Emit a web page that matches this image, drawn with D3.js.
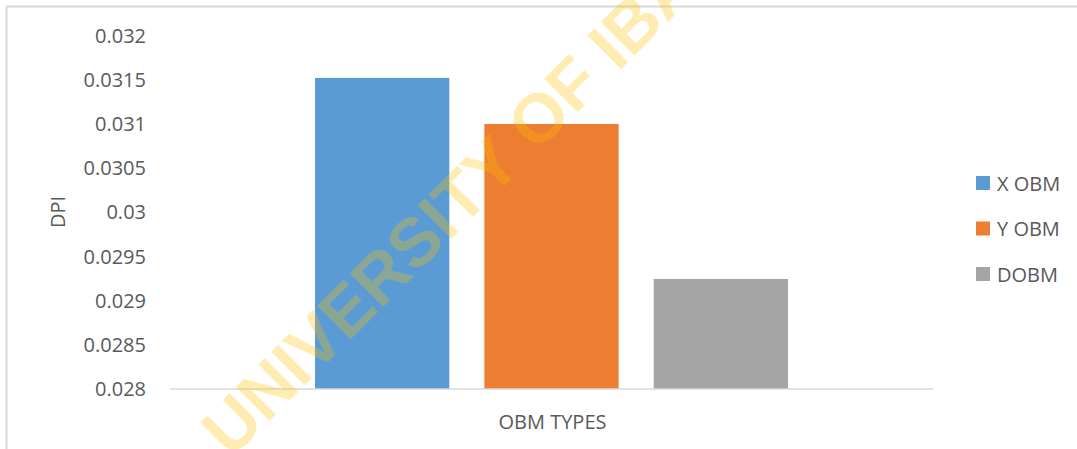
<!DOCTYPE html>
<html>
<head>
<meta charset="utf-8">
<script src="https://cdn.jsdelivr.net/npm/d3@7"></script>
<style>
  html, body { margin: 0; padding: 0; background: #fff; }
  svg { display: block; }
  text { font-family: "Open Sans", "Liberation Sans", sans-serif; }
</style>
</head>
<body>
<svg id="chart" width="1077" height="449"></svg>
<script>
// ---- data ----
const categories = ["OBM TYPES"];
const seriesNames = ["X OBM", "Y OBM", "DOBM"];
const seriesValues = [0.031525, 0.031003, 0.029247];
const seriesColors = ["#5B9BD5", "#ED7D31", "#A5A5A5"];
const yTicks = [0.028, 0.0285, 0.029, 0.0295, 0.03, 0.0305, 0.031, 0.0315, 0.032];
const yTitle = "DPI";
const xTitle = "OBM TYPES";
const watermark = "UNIVERSITY OF IBADAN";

const W = 1077, H = 449;
const svg = d3.select("#chart");
const textColor = "#595959";

// chart frame (partial border like the source crop)
svg.append("rect").attr("x", 6.5).attr("y", 6.5).attr("width", W + 10).attr("height", H + 10)
  .attr("fill", "#fff").attr("stroke", "#d9d9d9").attr("stroke-width", 2);

const plot = { left: 170, right: 933, top: 36, bottom: 389 };

const y = d3.scaleLinear().domain([0.028, 0.032]).range([plot.bottom, plot.top]);
const x0 = d3.scaleBand().domain(categories).range([plot.left, plot.right])
  .paddingInner(0).paddingOuter(0.3066);
const x1 = d3.scaleBand().domain(seriesNames).range([0, x0.bandwidth()])
  .paddingInner(0.207).paddingOuter(0);

const fmt = v => String(+v.toFixed(4));

// y axis labels
const yAxis = d3.axisLeft(y).tickValues(yTicks).tickFormat(fmt).tickSize(0).tickPadding(24);
const gy = svg.append("g").attr("transform", `translate(${plot.left},0)`).call(yAxis);
gy.select(".domain").remove();
gy.selectAll("text").attr("fill", textColor).style("font-size", "20px")
  .style("font-family", "'Open Sans', sans-serif");

// bars
const data = seriesNames.map((s, i) => ({ cat: categories[0], name: s, value: seriesValues[i], color: seriesColors[i] }));
svg.append("g").selectAll("rect").data(data).join("rect")
  .attr("x", d => x0(d.cat) + x1(d.name))
  .attr("width", x1.bandwidth())
  .attr("y", d => y(d.value))
  .attr("height", d => y(y.domain()[0]) - y(d.value))
  .attr("fill", d => d.color);

// x axis baseline
const xAxis = d3.axisBottom(x0).tickSize(0).tickFormat(() => "");
const gx = svg.append("g").attr("transform", `translate(0,${plot.bottom})`).call(xAxis);
gx.select(".domain").attr("stroke", "#d9d9d9").attr("stroke-width", 1.5)
  .attr("d", `M${plot.left},0H${plot.right}`);

// axis titles
svg.append("text").attr("x", (plot.left + plot.right) / 2 + 1).attr("y", 421)
  .attr("text-anchor", "middle").attr("dominant-baseline", "central")
  .attr("fill", textColor).style("font-size", "20px").text(xTitle);

svg.append("text").attr("transform", "translate(57,212) rotate(-90)")
  .attr("text-anchor", "middle").attr("dominant-baseline", "central")
  .attr("fill", textColor).style("font-size", "20px").text(yTitle);

// legend
const lg = svg.append("g").selectAll("g").data(data).join("g")
  .attr("transform", (d, i) => `translate(976,${183 + i * 45.5})`);
lg.append("rect").attr("x", 0).attr("y", -7).attr("width", 14).attr("height", 14).attr("fill", d => d.color);
lg.append("text").attr("x", 21).attr("y", 0).attr("dominant-baseline", "central")
  .attr("fill", textColor).style("font-size", "20px").text(d => d.name);

// watermark
svg.append("text").attr("transform", "translate(231,459) rotate(-45)")
  .attr("fill", "#FFC000").attr("fill-opacity", 0.3)
  .style("font-family", "'Liberation Sans', Arial, sans-serif")
  .style("font-weight", "bold").style("font-size", "69px")
  .text(watermark);
</script>
</body>
</html>
